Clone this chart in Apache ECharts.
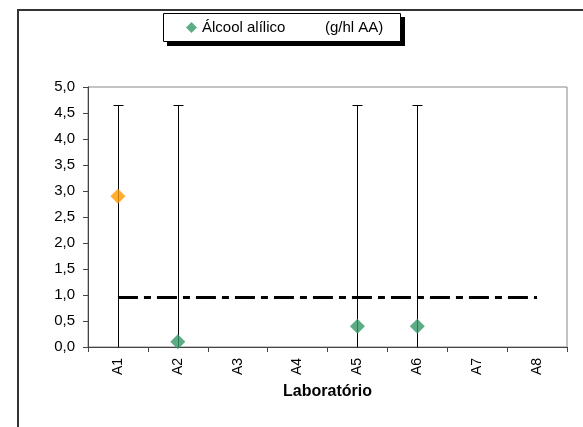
<!DOCTYPE html>
<html>
<head>
<meta charset="utf-8">
<script src="https://cdn.jsdelivr.net/npm/echarts@6/dist/echarts.min.js"></script>
<style>html,body{margin:0;padding:0;background:#fff}#c{width:583px;height:427px}</style>
</head>
<body>
<div id="c"></div>
<script>
const categories = ['A1','A2','A3','A4','A5','A6','A7','A8'];
const results = [2.9, 0.1, null, null, 0.4, 0.4, null, null];
const pointColors = ['#FF9900', '#339966', null, null, '#339966', '#339966', null, null];
const errLow = [0, 0, null, null, 0, 0, null, null];
const errHigh = [4.65, 4.65, null, null, 4.65, 4.65, null, null];
const refLine = [0.95, 0.95, 0.95, 0.95, 0.95, 0.95, 0.95, 0.95];
const yTicks = [0, 5, 0.5];
const seriesName = 'Álcool alílico';
const unitText = '(g/hl AA)';
const xName = 'Laboratório';

const FONT = '"Liberation Sans", Arial, sans-serif';
const chart = echarts.init(document.getElementById('c'), null, {renderer: 'canvas'});

const errData = [];
categories.forEach((c, i) => { if (errHigh[i] != null) errData.push([i, errLow[i], errHigh[i]]); });

const scatterData = results.map((v, i) => v == null ? null : {value: v, itemStyle: {color: pointColors[i]}});

chart.setOption({
  backgroundColor: '#fff',
  animation: false,
  textStyle: {fontFamily: FONT},
  graphic: [
    {type: 'rect', z: -10, silent: true,
     shape: {x: 18, y: 10, width: 600, height: 440},
     style: {fill: 'none', stroke: '#333', lineWidth: 2}},
    {type: 'rect', z: -5, silent: true,
     shape: {x: 167, y: 17, width: 238, height: 29},
     style: {fill: '#000'}},
    {type: 'rect', z: -4, silent: true,
     shape: {x: 163.5, y: 13.5, width: 237, height: 28},
     style: {fill: '#fff', stroke: '#000', lineWidth: 1}}
  ],
  legend: {
    left: 186, top: 20, padding: 0,
    itemWidth: 11, itemHeight: 11,
    data: [{name: seriesName, icon: 'diamond', itemStyle: {color: '#339966'}}],
    formatter: (n) => '{a|' + n + '}{b|' + unitText + '}',
    textStyle: {
      fontFamily: FONT, fontSize: 15, color: '#000', lineHeight: 15,
      rich: {a: {width: 123, fontSize: 15, fontFamily: FONT, color: '#000'}, b: {fontSize: 15, fontFamily: FONT, color: '#000'}}
    }
  },
  grid: {left: 88, right: 16, top: 87, bottom: 80, show: true, borderColor: '#888', borderWidth: 1, backgroundColor: 'transparent'},
  xAxis: {
    type: 'category', data: categories, boundaryGap: true,
    axisLine: {lineStyle: {color: '#444', width: 1}},
    axisTick: {show: true, length: 5, inside: false, alignWithLabel: false, lineStyle: {color: '#444'}},
    axisLabel: {rotate: 90, margin: 11, fontSize: 14, color: '#000', fontFamily: FONT},
    name: xName, nameLocation: 'middle', nameGap: 37,
    nameTextStyle: {fontWeight: 'bold', fontSize: 16, color: '#000', fontFamily: FONT},
    splitLine: {show: false}
  },
  yAxis: {
    type: 'value', min: yTicks[0], max: yTicks[1], interval: yTicks[2],
    axisLine: {show: true, lineStyle: {color: '#444', width: 1}},
    axisTick: {show: true, length: 5, lineStyle: {color: '#444'}},
    axisLabel: {margin: 13, fontSize: 15, color: '#000', fontFamily: FONT,
      formatter: (v) => v.toFixed(1).replace('.', ',')},
    splitLine: {show: false}
  },
  series: [
    {
      type: 'custom', name: 'err', silent: true, z: 2,
      data: errData,
      renderItem: (params, api) => {
        const x = api.value(0);
        const lo = api.coord([x, api.value(1)]);
        const hi = api.coord([x, api.value(2)]);
        const cx = Math.round(lo[0]) + 0.5;
        const half = 5;
        const hy = Math.round(hi[1]) + 0.5;
        return {type: 'group', children: [
          {type: 'line', shape: {x1: cx, y1: lo[1], x2: cx, y2: hy}, style: {stroke: '#000', lineWidth: 1}},
          {type: 'line', shape: {x1: cx - half, y1: hy, x2: cx + half, y2: hy}, style: {stroke: '#000', lineWidth: 1}}
        ]};
      }
    },
    {
      type: 'line', name: 'ref', data: refLine, symbol: 'none', z: 3, silent: true,
      lineStyle: {color: '#000', width: 3, type: [20, 6, 7, 6]}
    },
    {
      type: 'scatter', name: seriesName, data: scatterData, symbol: 'diamond', symbolSize: 15, z: 5,
      itemStyle: {color: '#339966'}
    }
  ]
});
</script>
</body>
</html>
